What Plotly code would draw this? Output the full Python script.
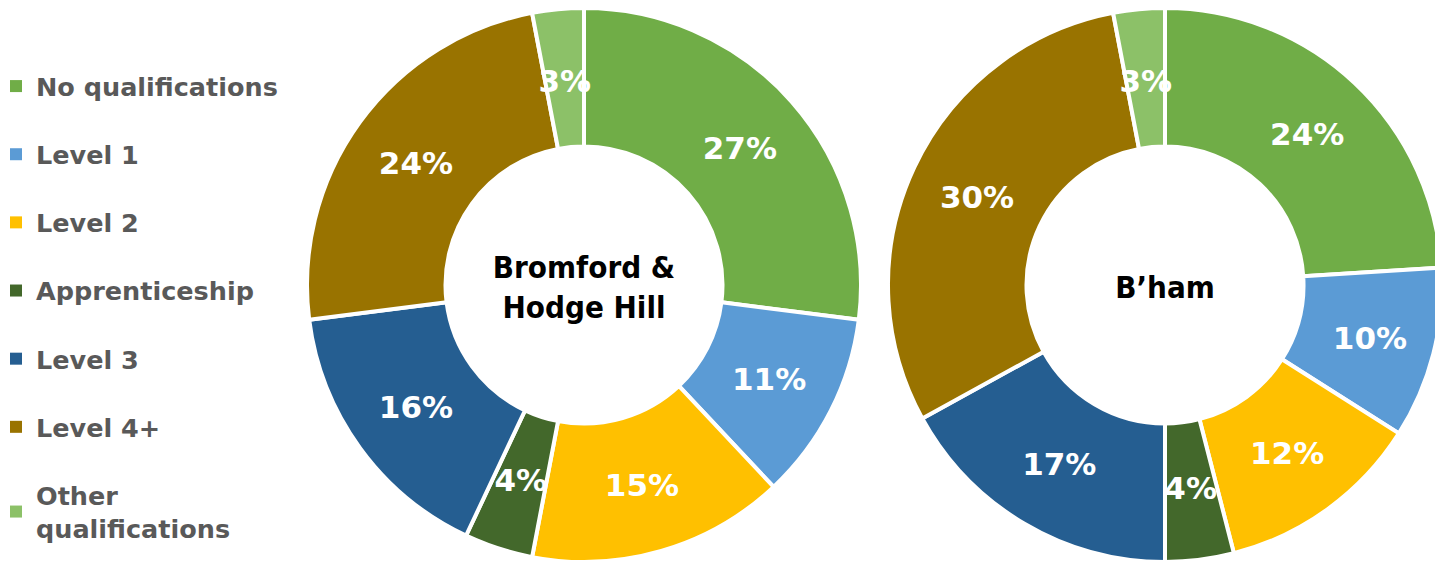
import plotly.graph_objects as go

categories = ["No qualifications", "Level 1", "Level 2", "Apprenticeship",
              "Level 3", "Level 4+", "Other qualifications"]
legend_labels = ["No qualifications", "Level 1", "Level 2", "Apprenticeship",
                 "Level 3", "Level 4+", "Other<br>qualifications"]
bromford_values = [27, 11, 15, 4, 16, 24, 3]
bham_values = [24, 10, 12, 4, 17, 30, 3]
colors = ["#70AD47", "#5B9BD5", "#FFC000", "#43682B", "#255E91", "#997300", "#8CC168"]

FONT = "DejaVu Sans, sans-serif"
FONT_C = "DejaVu Sans Condensed, DejaVu Sans, sans-serif"
W, H = 1450, 563   # page is shown in a 1435 px wide window; right donut is cut at the edge
R = 277            # donut outer radius (px)
R_LAB = 219        # radius of the thin label ring used for narrow slices (px)
SMALL = 5          # slices below this value get their label from the thin ring


def px_domain(cx, cy, r):
    x0, x1 = (cx - r) / W, (cx + r) / W
    y0, y1 = 1 - (cy + r) / H, 1 - (cy - r) / H
    return dict(x=[max(0, x0), min(1, x1)], y=[max(0, y0), min(1, y1)])


fig = go.Figure()


def add_donut(values, title, cx, cy):
    big = ["%{value}%" if v >= SMALL else "" for v in values]
    small = ["%{value}%" if v < SMALL else "" for v in values]
    # the coloured ring (labels of the wide slices)
    fig.add_trace(go.Pie(
        labels=categories, values=values, sort=False, direction="clockwise",
        rotation=0, hole=0.5,
        marker=dict(colors=colors, line=dict(color="white", width=4)),
        texttemplate=big, textposition="inside",
        insidetextorientation="horizontal",
        textfont=dict(color="white", size=31, family=FONT, weight="bold"),
        title=dict(text=title, position="middle center",
                   font=dict(color="black", size=31, family=FONT_C, weight="bold")),
        domain=px_domain(cx, cy, R),
        showlegend=False, hoverinfo="label+percent",
    ))
    # thin transparent ring carrying the labels of the narrow slices at mid-ring radius
    fig.add_trace(go.Pie(
        labels=categories, values=values, sort=False, direction="clockwise",
        rotation=0, hole=0.87,
        marker=dict(colors=["rgba(0,0,0,0)"] * len(values), line=dict(width=0)),
        texttemplate=small, textposition="inside",
        insidetextorientation="horizontal",
        textfont=dict(color="white", size=31, family=FONT, weight="bold"),
        domain=px_domain(cx, cy, R_LAB),
        showlegend=False, hoverinfo="skip",
    ))


add_donut(bromford_values, "Bromford &<br>Hodge Hill", 584, 285)
add_donut(bham_values, "B\u2019ham", 1165, 285)

for lab, col in zip(legend_labels, colors):
    fig.add_trace(go.Scatter(
        x=[None], y=[None], mode="markers", name=lab, legendgroup=lab,
        marker=dict(symbol="square", size=12, color=col),
    ))

fig.update_layout(
    width=W, height=H, margin=dict(l=0, r=0, t=0, b=0, autoexpand=False),
    paper_bgcolor="white", plot_bgcolor="white",
    xaxis=dict(visible=False), yaxis=dict(visible=False),
    uniformtext=dict(minsize=31, mode="show"),
    legend=dict(x=-4 / W, xanchor="left", y=1 - 63 / H, yanchor="top",
                font=dict(color="#595959", size=25.5, family=FONT, weight="bold"),
                traceorder="grouped", tracegroupgap=32, itemwidth=30,
                bgcolor="rgba(0,0,0,0)"),
)

fig.write_html(
    "out.html",
    config={"displayModeBar": False},
    post_script="document.body.style.margin='0';document.body.style.overflow='hidden';",
)
